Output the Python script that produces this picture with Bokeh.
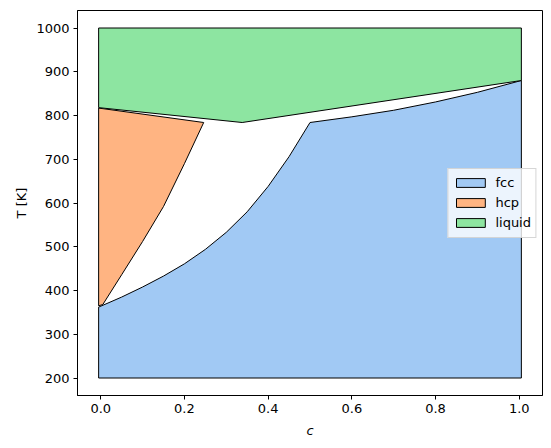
from bokeh.plotting import figure
from bokeh.models import Range1d, FixedTicker, PrintfTickFormatter
from bokeh.embed import file_html
from bokeh.resources import INLINE

# ---- data ----
c_min, c_max = -0.005, 1.005
T_min, T_max = 200, 1000

# fcc phase boundary (upper edge of fcc region)
fcc_c = [c_min, 0.05, 0.1, 0.15, 0.2, 0.25, 0.3, 0.35, 0.4, 0.45, 0.5, 0.6, 0.7, 0.8, 0.9, c_max]
fcc_T = [362, 385, 408, 433, 461, 494, 533, 580, 638, 706, 784, 797, 812, 831, 853, 880]

# hcp region outline
hcp_c = [c_min, 0.246, 0.2, 0.15, 0.1, 0.05, 0.005, c_min]
hcp_T = [817, 784, 690, 592, 512, 436, 368, 365]

# liquid lower boundary
liq_c = [c_min, 0.338, c_max]
liq_T = [818, 784, 880]

x_ticks = [0.0, 0.2, 0.4, 0.6, 0.8, 1.0]
y_ticks = [200, 300, 400, 500, 600, 700, 800, 900, 1000]

colors = {"fcc": "#a1c9f4", "hcp": "#ffb482", "liquid": "#8de5a1"}
FONT = "DejaVu Sans"

p = figure(width=545, height=440, output_backend="svg", toolbar_location=None,
           x_range=Range1d(-0.0555, 1.0555), y_range=Range1d(160, 1040),
           min_border_left=77, min_border_right=3, min_border_top=10, min_border_bottom=45)

# polygons built from the boundary arrays
fcc_x = [c_min, c_max] + fcc_c[::-1]
fcc_y = [T_min, T_min] + fcc_T[::-1]
liq_x = [c_min, c_max] + liq_c[::-1]
liq_y = [T_max, T_max] + liq_T[::-1]

p.patch(fcc_x, fcc_y, fill_color=colors["fcc"], line_color="black", line_width=1,
        line_join="miter", legend_label="fcc")
p.patch(hcp_c, hcp_T, fill_color=colors["hcp"], line_color="black", line_width=1,
        line_join="miter", legend_label="hcp")
p.patch(liq_x, liq_y, fill_color=colors["liquid"], line_color="black", line_width=1,
        line_join="miter", legend_label="liquid")

p.grid.visible = False
p.outline_line_color = "black"
p.outline_line_alpha = 1
p.outline_line_width = 1

for ax in (p.xaxis[0], p.yaxis[0]):
    ax.axis_line_color = "black"
    ax.major_tick_line_color = "black"
    ax.major_tick_in = 0
    ax.major_tick_out = 4
    ax.minor_tick_line_color = None
    ax.major_label_text_font = FONT
    ax.major_label_text_font_size = "13px"
    ax.major_label_text_color = "black"
    ax.major_label_standoff = 4
    ax.axis_label_text_font = FONT
    ax.axis_label_text_font_size = "13px"
    ax.axis_label_text_color = "black"

p.xaxis.ticker = FixedTicker(ticks=x_ticks)
p.xaxis.formatter = PrintfTickFormatter(format="%.1f")
p.yaxis.ticker = FixedTicker(ticks=y_ticks)
p.xaxis.axis_label = "c"
p.xaxis.axis_label_text_font_style = "italic"
p.xaxis.axis_label_standoff = 7
p.yaxis.axis_label = "T [K]"
p.yaxis.axis_label_text_font_style = "normal"
p.yaxis.axis_label_standoff = 4

lg = p.legend[0]
lg.location = "right"
lg.margin = 6
lg.padding = 4
lg.spacing = 0
lg.glyph_width = 36
lg.glyph_height = 11
lg.label_standoff = 7
lg.label_height = 20
lg.label_text_font = FONT
lg.label_text_font_size = "13px"
lg.label_text_color = "black"
lg.background_fill_color = "white"
lg.background_fill_alpha = 0.8
lg.border_line_color = "#cccccc"
lg.border_line_alpha = 0.8

open("out.html", "w").write(file_html(p, INLINE))
